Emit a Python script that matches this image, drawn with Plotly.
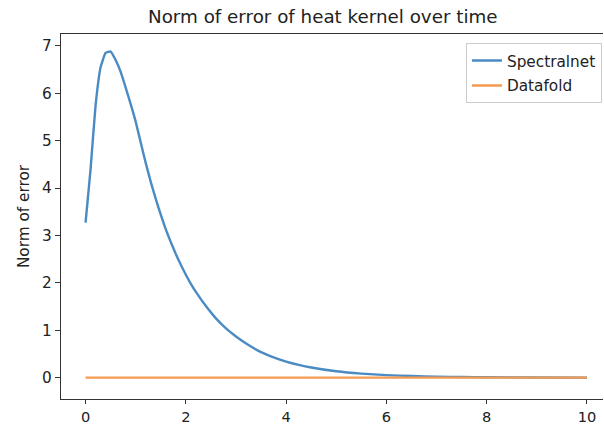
import plotly.graph_objects as go

# Time samples and the error norm of each heat-kernel approximation
t_values = [0.0, 0.1, 0.2, 0.3, 0.4, 0.5, 0.6, 0.7, 0.8, 0.9, 1.0,
            1.1, 1.2, 1.3, 1.4, 1.5, 1.6, 1.7, 1.8, 1.9, 2.0,
            2.1, 2.2, 2.4, 2.6, 2.8, 3.0, 3.25, 3.5, 3.75, 4.0,
            4.25, 4.5, 5.0, 5.5, 6.0, 6.5, 7.0, 7.5, 8.0, 9.0, 10.0]
spectralnet_err = [3.27, 4.4, 5.75, 6.55, 6.85, 6.88, 6.7, 6.45, 6.12, 5.77, 5.4,
                   4.96, 4.53, 4.13, 3.77, 3.44, 3.13, 2.86, 2.61, 2.38, 2.17,
                   1.98, 1.81, 1.51, 1.25, 1.04, 0.87, 0.69, 0.54, 0.43, 0.34,
                   0.27, 0.215, 0.135, 0.085, 0.054, 0.034, 0.022, 0.014, 0.009,
                   0.0035, 0.0014]
datafold_err = [0.0] * len(t_values)

x_ticks = [0, 2, 4, 6, 8, 10]
y_ticks = [0, 1, 2, 3, 4, 5, 6, 7]

FONT = "DejaVu Sans"
AXIS_COLOR = "#333333"
TEXT_COLOR = "#222222"
LABEL_SIZE = 15.3

fig = go.Figure()
fig.add_trace(go.Scatter(x=t_values, y=spectralnet_err, mode="lines",
                         name="Spectralnet", legendgroup="a",
                         line=dict(color="#4a8bc4", width=2.4,
                                   shape="spline", smoothing=0.4)))
fig.add_trace(go.Scatter(x=t_values, y=datafold_err, mode="lines",
                         name="Datafold", legendgroup="b",
                         line=dict(color="#f39a4f", width=2.4)))

fig.update_layout(
    width=604, height=425,
    margin=dict(l=61, r=1, t=34, b=26),
    paper_bgcolor="white", plot_bgcolor="white",
    font=dict(family=FONT, size=LABEL_SIZE, color=TEXT_COLOR),
    title=dict(text="Norm of error of heat kernel over time",
               x=0.483, xref="paper", xanchor="center",
               y=0.96, yref="container", yanchor="middle",
               font=dict(family=FONT, size=18.3, color=TEXT_COLOR)),
    showlegend=True,
    legend=dict(x=0.998, xanchor="right", y=0.975, yanchor="top",
                bgcolor="white", bordercolor="#cccccc", borderwidth=1,
                font=dict(family=FONT, size=LABEL_SIZE, color=TEXT_COLOR),
                tracegroupgap=2),
)

fig.update_xaxes(
    range=[-0.49, 10.32], automargin=False,
    tickvals=x_ticks, ticktext=[str(v) for v in x_ticks],
    showgrid=False, zeroline=False,
    showline=True, linecolor=AXIS_COLOR, linewidth=1.2, mirror=True,
    ticks="outside", ticklen=4, tickcolor=AXIS_COLOR, tickwidth=1,
    tickfont=dict(family=FONT, size=14.6, color=TEXT_COLOR),
)
fig.update_yaxes(
    range=[-0.45, 7.25], automargin=False,
    tickvals=y_ticks, ticktext=[str(v) for v in y_ticks],
    showgrid=False, zeroline=False,
    showline=True, linecolor=AXIS_COLOR, linewidth=1.2, mirror=False,
    ticks="outside", ticklen=5, tickcolor=AXIS_COLOR, tickwidth=1,
    tickfont=dict(family=FONT, size=LABEL_SIZE, color=TEXT_COLOR),
    title=dict(text="Norm of error", standoff=8,
               font=dict(family=FONT, size=LABEL_SIZE, color=TEXT_COLOR)),
)

fig.write_html("out.html")
